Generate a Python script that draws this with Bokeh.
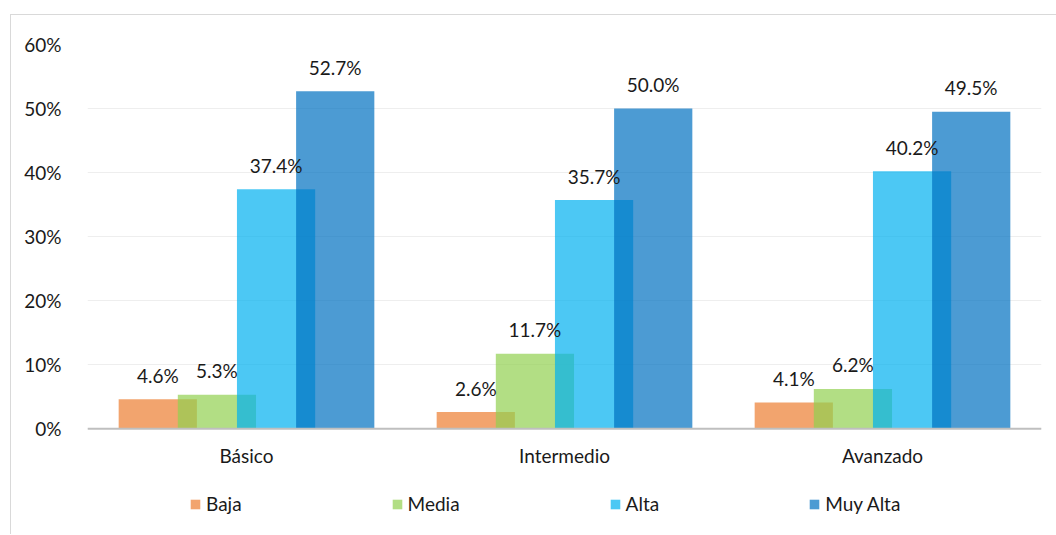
from bokeh.plotting import figure
from bokeh.models import (ColumnDataSource, LabelSet, Legend, LegendItem, PrintfTickFormatter,
                          FixedTicker, Span)
from bokeh.core.properties import value
from bokeh.transform import dodge
from bokeh.embed import file_html
from bokeh.resources import INLINE

categories = ["Básico", "Intermedio", "Avanzado"]
series_names = ["Baja", "Media", "Alta", "Muy Alta"]
baja = [4.6, 2.6, 4.1]
media = [5.3, 11.7, 6.2]
alta = [37.4, 35.7, 40.2]
muy_alta = [52.7, 50.0, 49.5]
y_ticks = [0, 10, 20, 30, 40, 50, 60]

colors = ["#ED7D31", "#92D050", "#00B0F0", "#0070C0"]
offsets = [-0.279, -0.093, 0.093, 0.279]
FONT = "Lato"
TXT = "#1a1a1a"

src = ColumnDataSource(dict(
    cat=categories, Baja=baja, Media=media, Alta=alta, MuyAlta=muy_alta,
    lBaja=[f"{v:.1f}%" for v in baja], lMedia=[f"{v:.1f}%" for v in media],
    lAlta=[f"{v:.1f}%" for v in alta], lMuyAlta=[f"{v:.1f}%" for v in muy_alta],
))
cols = ["Baja", "Media", "Alta", "MuyAlta"]

# frame extends below the 0% baseline to hold category labels and legend
p = figure(width=1046, height=520, x_range=categories, y_range=(-15.9, 60),
           output_backend="svg", toolbar_location=None,
           min_border_left=76, min_border_right=16, min_border_top=29, min_border_bottom=5,
           margin=(14, 0, 0, 10),
           styles={"border-top": "1px solid #d9d9d9", "border-left": "1px solid #d9d9d9"})
p.outline_line_color = None
p.background_fill_color = "white"
p.border_fill_color = "white"

p.xgrid.grid_line_color = None
p.ygrid.grid_line_color = "#eeeeee"
p.ygrid.grid_line_width = 1
p.ygrid.ticker = FixedTicker(ticks=y_ticks)

renderers = []
for col, c, off in zip(cols, colors, offsets):
    r = p.vbar(x=dodge("cat", off, range=p.x_range), top=col, width=0.246, source=src,
               fill_color=c, fill_alpha=0.7, line_color=None)
    renderers.append(r)
for col, off in zip(cols, offsets):
    p.add_layout(LabelSet(x=dodge("cat", off, range=p.x_range), y=col, text="l" + col, source=src,
                          text_align="center", text_baseline="middle", y_offset=24,
                          text_font=value(FONT), text_font_size=value("19px"), text_color=TXT))

# baseline axis line at 0 and category labels beneath it
p.add_layout(Span(location=0, dimension="width", line_color="#bfbfbf", line_width=2))
p.add_layout(LabelSet(x="cat", y=value(0), text="cat", source=src,
                      text_align="center", text_baseline="middle", y_offset=-27,
                      text_font=value(FONT), text_font_size=value("19px"), text_color=TXT))

p.xaxis.visible = False
p.yaxis.ticker = FixedTicker(ticks=y_ticks)
p.yaxis.formatter = PrintfTickFormatter(format="%d%%")
p.yaxis.axis_line_color = None
p.yaxis.major_tick_line_color = None
p.yaxis.minor_tick_line_color = None
p.yaxis.major_label_standoff = 20
p.yaxis.major_label_text_font = FONT
p.yaxis.major_label_text_font_size = "19px"
p.yaxis.major_label_text_color = TXT

legend = Legend(items=[LegendItem(label=n, renderers=[r]) for n, r in zip(series_names, renderers)],
                orientation="horizontal", spacing=149, glyph_width=12, glyph_height=12,
                label_standoff=5, border_line_color=None, background_fill_alpha=0,
                label_text_font=FONT, label_text_font_size="19px", label_text_color=TXT,
                padding=0, margin=0, location=(102, 15))
p.add_layout(legend, "center")

open("out.html", "w").write(file_html(p, INLINE))
